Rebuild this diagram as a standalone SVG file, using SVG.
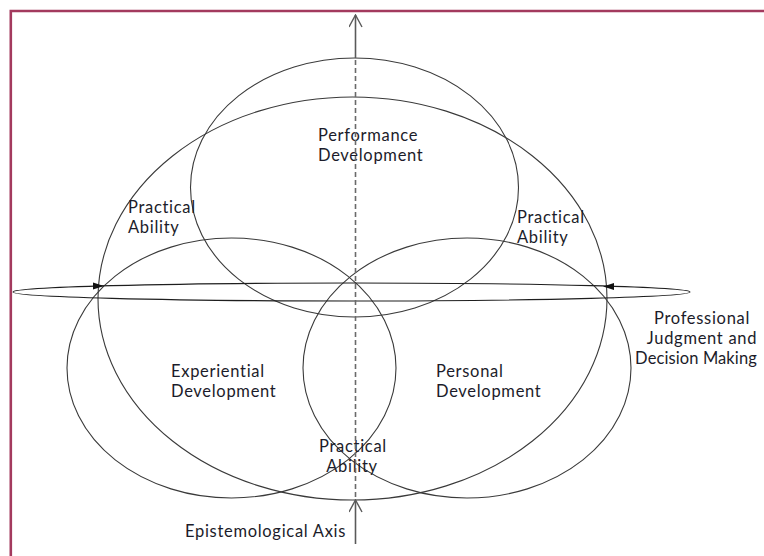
<svg xmlns="http://www.w3.org/2000/svg" width="764" height="556" viewBox="0 0 764 556">
  <style>
    .ring { fill: none; stroke: #3a3a3a; stroke-width: 1.1; }
    .band { fill: none; stroke: #1e1e1e; stroke-width: 1.1; }
    .label { font-family: Lato, "Open Sans", sans-serif; font-size: 16.5px; letter-spacing: 0.7px; fill: #1c1c2a; }
    .tight { letter-spacing: 0.1px; }
    .axis { fill: none; stroke: #5a5a5a; stroke-width: 1.6; }
    .axis-dash { fill: none; stroke: #6a6a6a; stroke-width: 1.6; stroke-dasharray: 5 3; }
    .frame { fill: none; stroke: #a33a5e; stroke-width: 2.6; }
  </style>
  <defs>
    <marker id="openHead" viewBox="0 0 14 14" refX="13" refY="7" markerWidth="14" markerHeight="14" markerUnits="userSpaceOnUse" orient="auto">
      <path d="M1,0.5 L13,7 L1,13.5" fill="none" stroke="#5a5a5a" stroke-width="1.4"/>
    </marker>
  </defs>

  <rect width="764" height="556" fill="#ffffff"/>

  <!-- page frame -->
  <path class="frame" d="M10.8,556 V11 H764"/>

  <!-- outer ring: professional judgment envelope -->
  <g id="outer-ring">
    <ellipse class="ring" cx="352.5" cy="298.5" rx="254.5" ry="201.5"/>
  </g>

  <!-- three development domains -->
  <g id="performance-development">
    <ellipse class="ring" cx="354.5" cy="187.5" rx="164" ry="129.5"/>
    <text class="label" x="318" y="141">Performance</text>
    <text class="label" x="318" y="161">Development</text>
  </g>

  <g id="experiential-development">
    <ellipse class="ring" cx="231.5" cy="368" rx="164.5" ry="130"/>
    <text class="label" x="171" y="377">Experiential</text>
    <text class="label" x="171" y="397">Development</text>
  </g>

  <g id="personal-development">
    <ellipse class="ring" cx="467" cy="368" rx="164" ry="130"/>
    <text class="label" x="436" y="377">Personal</text>
    <text class="label" x="436" y="397">Development</text>
  </g>

  <!-- overlap labels -->
  <g id="practical-ability-left">
    <text class="label" x="128" y="213">Practical</text>
    <text class="label" x="128" y="233">Ability</text>
  </g>
  <g id="practical-ability-right">
    <text class="label" x="517" y="223">Practical</text>
    <text class="label" x="517" y="243">Ability</text>
  </g>
  <g id="practical-ability-bottom">
    <text class="label" x="353" y="452" text-anchor="middle">Practical</text>
    <text class="label" x="352" y="472" text-anchor="middle">Ability</text>
  </g>

  <!-- horizontal judgment loop -->
  <g id="judgment-loop">
    <ellipse class="band" cx="351.5" cy="292" rx="338.5" ry="9"/>
    <path d="M93,282.5 L104,286 L93,289.5 Z" fill="#111"/>
    <path d="M614,283 L603,286.5 L614,290 Z" fill="#111"/>
    <text class="label" x="702" y="324" text-anchor="middle">Professional</text>
    <text class="label" x="702" y="344" text-anchor="middle">Judgment and</text>
    <text class="label tight" x="696" y="364" text-anchor="middle">Decision Making</text>
  </g>

  <!-- epistemological axis -->
  <g id="connectors">
    <line class="axis-dash" x1="355.5" y1="60" x2="355.5" y2="498"/>
    <line class="axis" x1="355.5" y1="58" x2="355.5" y2="15" marker-end="url(#openHead)"/>
    <line class="axis" x1="355.5" y1="544" x2="355.5" y2="500" marker-end="url(#openHead)"/>
  </g>

  <g id="epistemological-axis-label">
    <text class="label" x="185" y="537">Epistemological Axis</text>
  </g>
</svg>
